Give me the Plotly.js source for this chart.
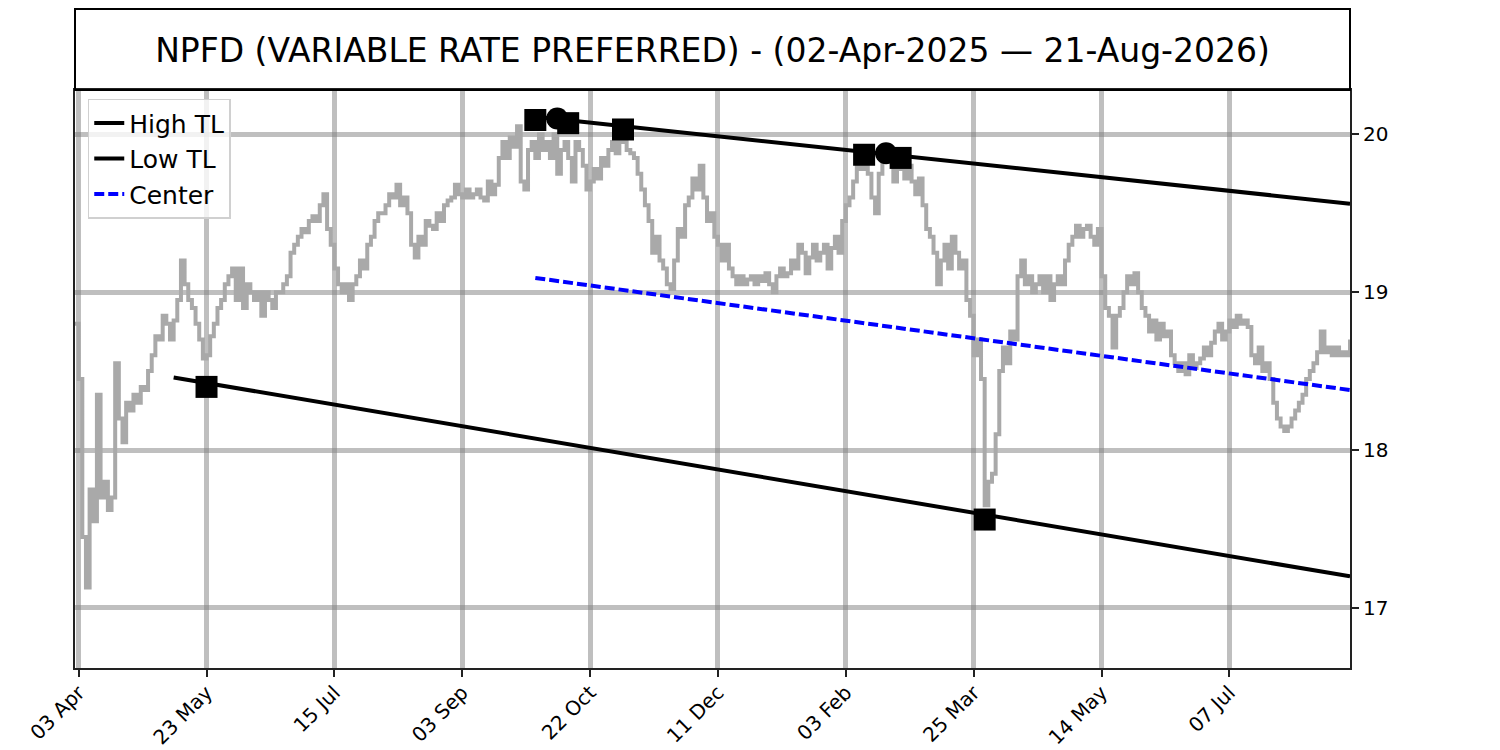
<!DOCTYPE html>
<html>
<head>
<meta charset="utf-8">
<script src="https://cdn.plot.ly/plotly-3.0.1.min.js"></script>
<style>
  body { margin: 0; background: #fff; }
  #myDiv { width: 1500px; height: 750px; }
</style>
</head>
<body>
<div id="myDiv"></div>
<script>
// close prices, one per trading day, bar 0 = 02 Apr 2025
const closePrices = [
  18.80, 18.45, 17.45, 17.13, 17.75, 17.55, 18.35, 17.70, 17.80, 17.62,
  17.70, 18.55, 18.20, 18.05, 18.30, 18.25, 18.35, 18.30, 18.40, 18.38,
  18.50, 18.60, 18.72, 18.70, 18.85, 18.80, 18.70, 18.82, 18.95, 19.20,
  19.05, 18.95, 18.90, 18.80, 18.70, 18.58, 18.60, 18.72, 18.80, 18.90,
  18.95, 19.05, 19.10, 19.15, 18.95, 19.15, 18.90, 19.05, 19.00, 18.95,
  19.00, 18.85, 19.00, 18.95, 18.90, 19.00, 19.00, 19.05, 19.10, 19.25,
  19.30, 19.35, 19.40, 19.38, 19.45, 19.48, 19.45, 19.55, 19.62, 19.40,
  19.30, 19.15, 19.05, 19.00, 19.05, 18.95, 19.05, 19.10, 19.20, 19.15,
  19.30, 19.35, 19.45, 19.50, 19.50, 19.55, 19.62, 19.60, 19.68, 19.55,
  19.60, 19.50, 19.30, 19.22, 19.35, 19.30, 19.45, 19.42, 19.40, 19.50,
  19.45, 19.55, 19.58, 19.60, 19.68, 19.62, 19.60, 19.65, 19.60, 19.62,
  19.65, 19.60, 19.58, 19.70, 19.62, 19.68, 19.85, 19.95, 19.85, 19.98,
  19.92, 20.05, 19.70, 19.65, 19.90, 19.95, 19.85, 20.00, 19.90, 19.95,
  19.85, 20.00, 19.75, 19.90, 19.95, 19.85, 19.70, 19.95, 19.90, 19.80,
  19.65, 19.70, 19.78, 19.72, 19.85, 19.80, 19.90, 19.95, 19.88, 19.97,
  19.95, 19.90, 19.88, 19.85, 19.75, 19.65, 19.55, 19.45, 19.25, 19.35,
  19.20, 19.15, 19.05, 19.02, 19.20, 19.40, 19.35, 19.55, 19.60, 19.72,
  19.65, 19.80, 19.60, 19.45, 19.50, 19.35, 19.30, 19.20, 19.30, 19.15,
  19.10, 19.05, 19.10, 19.05, 19.08, 19.10, 19.05, 19.10, 19.07, 19.12,
  19.05, 19.00, 19.10, 19.15, 19.10, 19.12, 19.20, 19.15, 19.30, 19.25,
  19.12, 19.22, 19.30, 19.20, 19.25, 19.30, 19.15, 19.28, 19.35, 19.25,
  19.45, 19.55, 19.60, 19.70, 19.82, 19.78, 19.90, 19.75, 19.60, 19.50,
  19.75, 19.85, 19.92, 19.85, 19.70, 19.85, 19.78, 19.72, 19.80, 19.70,
  19.62, 19.72, 19.55, 19.40, 19.35, 19.25, 19.05, 19.20, 19.30, 19.15,
  19.35, 19.25, 19.15, 19.20, 18.95, 18.85, 18.60, 18.70, 18.45, 17.65,
  17.80, 17.85, 18.10, 18.50, 18.65, 18.55, 18.75, 18.70, 19.10, 19.20,
  19.05, 19.10, 19.00, 19.05, 19.10, 19.00, 19.10, 18.95, 19.05, 19.10,
  19.05, 19.20, 19.30, 19.35, 19.42, 19.35, 19.40, 19.42, 19.35, 19.30,
  19.40, 19.10, 18.90, 18.85, 18.65, 18.85, 18.90, 19.00, 19.10, 19.05,
  19.12, 19.00, 18.90, 18.85, 18.75, 18.82, 18.70, 18.80, 18.72, 18.75,
  18.60, 18.55, 18.50, 18.55, 18.48, 18.60, 18.52, 18.55, 18.58, 18.65,
  18.60, 18.68, 18.75, 18.80, 18.70, 18.75, 18.82, 18.78, 18.85, 18.80,
  18.82, 18.78, 18.60, 18.55, 18.65, 18.50, 18.55, 18.45, 18.30, 18.20,
  18.15, 18.12, 18.15, 18.20, 18.25, 18.30, 18.35, 18.45, 18.50, 18.55,
  18.62, 18.75, 18.62, 18.65, 18.60, 18.65, 18.60, 18.62, 18.60, 18.70
];

// x axis is bar number, labels are the dates of every 35th bar
const tickBars = [1, 36, 71, 106, 141, 176, 211, 246, 281, 316];
const tickLabels = ["03 Apr", "23 May", "15 Jul", "03 Sep", "22 Oct",
  "11 Dec", "03 Feb", "25 Mar", "14 May", "07 Jul"];

// trend lines (start bar / end bar and their values)
const highTLBars = [126, 349];
const highTLValues = [20.11, 19.56];
const lowTLBars = [27, 349];
const lowTLValues = [18.46, 17.20];
const centerBars = [126, 349];
const centerValues = [19.09, 18.38];

// pivots
const highPivotBars = [126, 135, 150, 216, 226];
const highPivotValues = [20.09, 20.07, 20.03, 19.87, 19.85];
const highPeakBars = [132, 222];
const highPeakValues = [20.10, 19.88];
const lowPivotBars = [36, 249];
const lowPivotValues = [18.40, 17.56];

function drawChart() {
  const barIndex = closePrices.map((v, i) => i);

  var price = {
    x: barIndex,
    y: closePrices,
    type: "scatter",
    mode: "lines",
    line: { color: "#a9a9a9", width: 4, shape: "hv" },
    showlegend: false,
    hoverinfo: "skip",
  };

  var highTL = {
    x: highTLBars,
    y: highTLValues,
    type: "scatter",
    mode: "lines",
    name: "High TL",
    line: { color: "black", width: 4 },
  };

  var lowTL = {
    x: lowTLBars,
    y: lowTLValues,
    type: "scatter",
    mode: "lines",
    name: "Low TL",
    line: { color: "black", width: 4 },
  };

  var center = {
    x: centerBars,
    y: centerValues,
    type: "scatter",
    mode: "lines",
    name: "Center",
    line: { color: "blue", width: 4, dash: "10px,4px" },
  };

  var squares = {
    x: highPivotBars.concat(lowPivotBars),
    y: highPivotValues.concat(lowPivotValues),
    type: "scatter",
    mode: "markers",
    marker: { symbol: "square", color: "black", size: 22 },
    showlegend: false,
  };

  var circles = {
    x: highPeakBars,
    y: highPeakValues,
    type: "scatter",
    mode: "markers",
    marker: { symbol: "circle", color: "black", size: 22 },
    showlegend: false,
  };

  var data = [price, highTL, lowTL, center, squares, circles];

  var layout = {
    width: 1500,
    height: 750,
    margin: { l: 75, r: 150, t: 90, b: 82 },
    paper_bgcolor: "white",
    plot_bgcolor: "white",
    font: { family: "DejaVu Sans", color: "black", size: 20 },
    title: {
      text: "NPFD (VARIABLE RATE PREFERRED) - (02-Apr-2025 \u2014 21-Aug-2026)",
      font: { family: "DejaVu Sans", size: 33, color: "black" },
      x: 0.475,
      xanchor: "center",
      y: 1 - 50 / 750,
      yanchor: "middle",
    },
    xaxis: {
      range: [0, 349],
      tickvals: tickBars,
      ticktext: tickLabels,
      tickangle: -45,
      ticks: "outside",
      ticklen: 7,
      tickwidth: 2,
      tickcolor: "#222",
      ticklabelstandoff: -4,
      showgrid: true,
      gridcolor: "rgba(128,128,128,0.5)",
      gridwidth: 4.5,
      zeroline: false,
      showline: true,
      linecolor: "#222",
      linewidth: 2,
      mirror: true,
      tickfont: { size: 20 },
    },
    yaxis: {
      side: "right",
      range: [16.62, 20.28],
      dtick: 1,
      ticks: "outside",
      ticklen: 7,
      tickwidth: 2,
      tickcolor: "#222",
      showgrid: true,
      gridcolor: "rgba(128,128,128,0.5)",
      gridwidth: 4.5,
      zeroline: false,
      showline: true,
      linecolor: "#222",
      linewidth: 2,
      mirror: true,
      tickfont: { size: 20 },
    },
    legend: {
      x: 0.01,
      y: 0.985,
      xanchor: "left",
      yanchor: "top",
      bgcolor: "rgba(255,255,255,0.8)",
      bordercolor: "#d0d0d0",
      borderwidth: 1.5,
      font: { size: 25 },
      itemwidth: 30,
      tracegroupgap: 0,
    },
    shapes: [
      {
        type: "rect",
        xref: "paper",
        yref: "paper",
        x0: 0,
        x1: 1,
        y0: 1,
        y1: 1 + 81 / 578,
        line: { color: "black", width: 2 },
        fillcolor: "rgba(0,0,0,0)",
      },
    ],
  };

  Plotly.newPlot("myDiv", data, layout, { displayModeBar: false });
}

drawChart();
</script>
</body>
</html>
